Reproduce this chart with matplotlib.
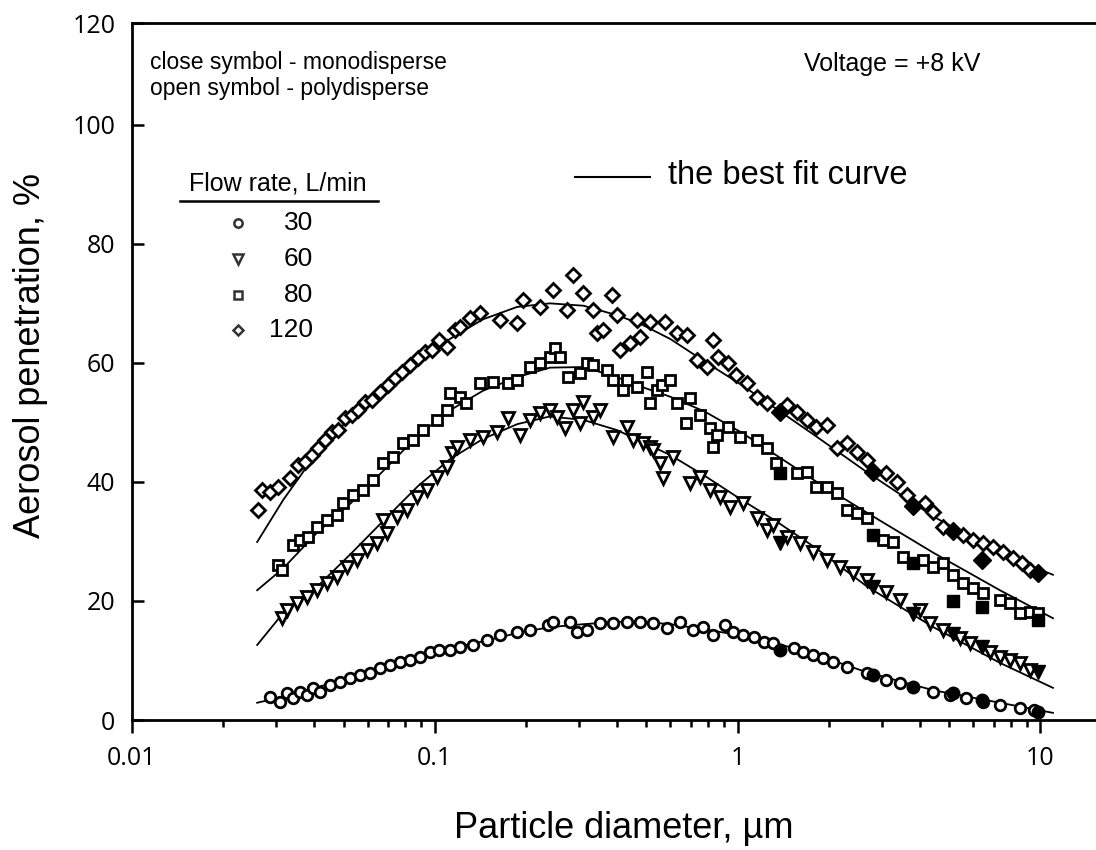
import numpy as np
import matplotlib
matplotlib.use("Agg")
import matplotlib.pyplot as plt
from matplotlib.ticker import LogLocator, NullFormatter, FixedLocator

plt.rcParams['font.family'] = ['Liberation Sans', 'DejaVu Sans']

# ---- data (x in um, y in %) ----
# 120 L/min, open diamonds (polydisperse)
x120 = [0.0261, 0.0269, 0.0286, 0.0303, 0.0333, 0.0354, 0.0373, 0.0393, 0.0412, 0.0434,
        0.0458, 0.0480, 0.0506, 0.0533, 0.0559, 0.0589, 0.0620, 0.0659, 0.0700, 0.0739,
        0.0779, 0.0828, 0.0880, 0.0928, 0.0979, 0.1034, 0.110, 0.1165, 0.121, 0.131,
        0.141, 0.164, 0.187, 0.195, 0.222, 0.245, 0.273, 0.285, 0.309, 0.333,
        0.343, 0.359, 0.385, 0.399, 0.409, 0.442, 0.465, 0.476, 0.514, 0.576,
        0.632, 0.681, 0.735, 0.793, 0.830, 0.862, 0.930, 0.99, 1.07, 1.16,
        1.25, 1.46, 1.57, 1.69, 1.82, 1.97, 2.13, 2.30, 2.48, 2.68,
        3.10, 3.35, 3.62, 4.16, 4.43, 4.77, 5.54, 5.98, 6.45, 6.97,
        7.52, 8.11, 8.69, 9.24]
y120 = [35.3, 38.7, 38.3, 39.2, 40.7, 42.9, 43.4, 44.5, 45.7, 47.1,
        48.4, 48.7, 50.8, 51.3, 52.1, 53.4, 53.8, 55.1, 56.3, 57.5,
        58.5, 59.7, 60.8, 61.8, 62.2, 63.9, 62.7, 65.5, 66.0, 67.6,
        68.4, 67.2, 66.7, 70.6, 69.4, 72.3, 68.9, 74.8, 71.8, 68.9,
        65.0, 65.5, 71.4, 68.0, 62.2, 63.4, 67.2, 64.4, 66.9, 66.9,
        65.0, 64.7, 60.5, 59.3, 63.9, 61.0, 60.0, 58.0, 56.6, 54.3,
        53.3, 52.9, 51.8, 50.4, 49.2, 49.6, 45.7, 46.6, 45.0, 43.7,
        41.5, 40.0, 37.8, 36.5, 35.0, 32.4, 31.1, 30.3, 29.7, 29.1,
        28.2, 27.2, 26.4, 25.2]

# 80 L/min, open squares
x80 = [0.0303, 0.0313, 0.0341, 0.0359, 0.0381, 0.0409, 0.0441, 0.0476, 0.0497, 0.0537,
       0.0580, 0.0625, 0.0674, 0.0727, 0.0785, 0.0847, 0.0914, 0.1017, 0.110, 0.112,
       0.121, 0.127, 0.141, 0.156, 0.174, 0.187, 0.206, 0.222, 0.240, 0.250,
       0.259, 0.275, 0.302, 0.318, 0.333, 0.370, 0.388, 0.418, 0.431, 0.465,
       0.501, 0.514, 0.541, 0.562, 0.598, 0.632, 0.673, 0.697, 0.752, 0.811,
       0.830, 0.855, 0.930, 1.02, 1.16, 1.25, 1.34, 1.57, 1.69, 1.82,
       1.97, 2.13, 2.30, 2.48, 2.68, 3.02, 3.26, 3.52, 4.10, 4.43,
       4.77, 5.16, 5.54, 5.98, 6.45, 7.35, 7.93, 8.56, 9.24, 9.8]
y80 = [26.0, 25.2, 29.4, 30.3, 30.8, 32.4, 33.6, 34.5, 36.5, 37.8,
       38.7, 40.3, 43.2, 44.2, 46.6, 47.1, 48.7, 50.4, 52.1, 55.0,
       54.3, 53.3, 56.6, 56.8, 56.6, 57.1, 59.3, 60.0, 61.0, 62.5,
       61.0, 57.6, 58.3, 60.0, 59.7, 58.8, 57.1, 55.5, 57.1, 56.0,
       58.5, 53.3, 55.5, 56.3, 57.1, 53.3, 49.9, 54.1, 51.3, 49.1,
       45.9, 47.9, 49.2, 47.6, 47.1, 45.7, 43.2, 41.5, 41.7, 39.2,
       39.2, 38.2, 35.3, 34.8, 33.9, 30.3, 29.9, 27.4, 26.9, 25.7,
       26.4, 24.4, 23.0, 22.2, 21.3, 20.2, 19.7, 18.0, 18.2, 18.0]

# 60 L/min, open down-triangles
x60 = [0.0313, 0.0325, 0.0351, 0.0378, 0.0409, 0.0441, 0.0476, 0.0513, 0.0554, 0.0597,
       0.0644, 0.0695, 0.0674, 0.0750, 0.0809, 0.0873, 0.0942, 0.1017, 0.110, 0.114,
       0.118, 0.131, 0.144, 0.161, 0.174, 0.191, 0.206, 0.222, 0.240, 0.253,
       0.270, 0.285, 0.302, 0.309, 0.333, 0.351, 0.388, 0.431, 0.452, 0.488,
       0.514, 0.527, 0.555, 0.567, 0.612, 0.697, 0.752, 0.811, 0.875, 0.944,
       1.04, 1.16, 1.25, 1.31, 1.46, 1.61, 1.78, 1.97, 2.18, 2.41,
       2.68, 3.10, 3.44, 4.00, 4.32, 4.77, 5.42, 5.85, 6.81, 7.35,
       7.93, 8.56, 9.24]
y60 = [17.1, 18.5, 19.7, 20.7, 21.8, 23.0, 24.0, 25.7, 26.9, 28.6,
       29.7, 31.4, 33.6, 34.1, 35.3, 37.5, 38.7, 40.8, 42.5, 44.9,
       45.9, 47.1, 47.6, 48.4, 50.8, 47.9, 50.4, 51.6, 52.1, 50.9,
       49.1, 52.1, 49.9, 53.4, 50.9, 52.1, 47.6, 49.2, 47.1, 46.6,
       45.9, 45.4, 43.2, 40.7, 44.2, 39.8, 40.8, 38.7, 37.5, 35.8,
       36.5, 33.9, 31.9, 32.8, 30.8, 29.7, 28.2, 26.9, 25.7, 24.7,
       23.5, 21.5, 20.2, 18.5, 16.3, 15.1, 13.8, 12.9, 11.4, 10.6,
       10.1, 9.6, 8.4]

# 30 L/min, open circles
x30 = [0.0286, 0.0308, 0.0325, 0.0341, 0.0359, 0.0378, 0.0396, 0.0418, 0.0451, 0.0487,
       0.0525, 0.0567, 0.0611, 0.0659, 0.0711, 0.0767, 0.0828, 0.0893, 0.0964, 0.1034,
       0.112, 0.121, 0.134, 0.149, 0.164, 0.187, 0.206, 0.236, 0.245, 0.279,
       0.295, 0.318, 0.351, 0.388, 0.431, 0.476, 0.527, 0.584, 0.646, 0.714,
       0.770, 0.830, 0.908, 0.967, 1.04, 1.13, 1.22, 1.31, 1.53, 1.65,
       1.78, 1.92, 2.07, 2.30, 2.68, 3.10, 3.44, 4.43, 5.02, 5.70,
       6.45, 7.35, 8.56, 9.5]
y30 = [3.9, 3.0, 4.5, 3.7, 4.7, 4.2, 5.4, 4.7, 5.9, 6.4,
       7.1, 7.6, 7.9, 8.7, 9.2, 9.7, 10.1, 10.6, 11.4, 11.8,
       11.8, 12.3, 12.6, 13.4, 14.3, 14.8, 15.1, 16.0, 16.5, 16.5,
       14.8, 15.1, 16.3, 16.3, 16.5, 16.5, 16.3, 15.5, 16.5, 15.1,
       15.6, 14.3, 16.0, 14.8, 14.3, 13.9, 13.1, 12.9, 12.1, 11.4,
       10.9, 10.4, 9.7, 8.9, 7.9, 6.7, 6.2, 4.7, 4.2, 3.7,
       3.0, 2.5, 2.0, 1.7]

# monodisperse (filled symbols)
x_mono = [1.38, 2.80, 3.79, 5.16, 6.40, 9.8]
y120_mono = [51.8, 41.7, 36.0, 31.7, 26.8, 24.7]
y80_mono = [41.5, 31.1, 26.4, 20.0, 19.0, 16.8]
y60_mono = [29.7, 22.4, 17.8, 14.4, 12.3, 8.1]
y30_mono = [11.8, 7.6, 5.5, 4.5, 3.4, 1.3]

# best fit curves
xfit = [0.0259, 0.0316, 0.0409, 0.053, 0.068, 0.088, 0.112, 0.144, 0.187, 0.24,
        0.31, 0.40, 0.48, 0.60, 0.78, 1.03, 1.34, 1.80, 2.68, 4.43, 7.35, 11.0]
fit120 = [29.9, 37.0, 45.0, 51.0, 55.5, 60.0, 64.0, 67.3, 69.4, 70.0,
          69.6, 68.0, 66.5, 64.0, 60.2, 56.3, 52.3, 47.8, 41.6, 34.2, 28.0, 24.4]
fit80 = [21.8, 25.5, 31.5, 36.5, 42.0, 47.8, 52.0, 55.3, 57.6, 59.2,
         59.3, 57.6, 56.0, 54.3, 51.8, 48.3, 44.5, 40.2, 34.8, 28.1, 21.8, 17.1]
fit60 = [12.6, 18.0, 22.4, 28.0, 33.6, 39.3, 43.8, 47.2, 49.7, 51.0,
         50.4, 48.7, 46.8, 44.5, 41.0, 37.0, 33.4, 29.0, 22.4, 15.6, 9.6, 5.4]
fit30 = [2.9, 3.9, 5.5, 7.2, 8.9, 10.6, 12.0, 13.2, 14.6, 15.6,
         16.1, 16.5, 16.5, 16.1, 15.2, 14.2, 12.9, 11.0, 8.0, 5.0, 2.9, 1.2]

flow_labels = ['30', '60', '80', '120']
yticks = [0, 20, 40, 60, 80, 100]

# ---- figure ----
fig = plt.figure(figsize=(10.96, 8.5), dpi=100)
ax = fig.add_axes([132 / 1096, 1 - 720 / 850, 1 - 132 / 1096, 697 / 850])

ax.set_xscale('log')
ax.set_xlim(0.01, 15.26)
ax.set_ylim(0, 117.1)

for yf in [fit120, fit80, fit60, fit30]:
    ax.plot(xfit, yf, color='black', lw=1.3, zorder=2)

open_kw = dict(ls='none', mfc='white', mec='black', mew=2.0, zorder=3)
ax.plot(x120, y120, marker='D', ms=6.8, **open_kw)
ax.plot(x80, y80, marker='s', ms=7.2, **open_kw)
ax.plot(x60, y60, marker='v', ms=8.3, **open_kw)
ax.plot(x30, y30, marker='o', ms=7.6, **open_kw)

fill_kw = dict(ls='none', mfc='black', mec='black', zorder=4)
ax.plot(x_mono, y120_mono, marker='D', ms=9, **fill_kw)
ax.plot(x_mono, y80_mono, marker='s', ms=9, **fill_kw)
ax.plot(x_mono, y60_mono, marker='v', ms=10, **fill_kw)
ax.plot(x_mono, y30_mono, marker='o', ms=9, **fill_kw)

# spines and ticks
ax.spines['right'].set_visible(False)
for s in ['left', 'bottom', 'top']:
    ax.spines[s].set_linewidth(2.0)

ax.yaxis.set_major_locator(FixedLocator(yticks + [117.1]))
ax.set_yticklabels([str(v) for v in yticks] + ['120'])
ax.tick_params(axis='y', which='major', direction='in', length=8.5, width=1.8,
               pad=12, labelsize=18, right=False)
ax.xaxis.set_minor_locator(LogLocator(base=10, subs=np.arange(2, 10), numticks=20))
ax.xaxis.set_minor_formatter(NullFormatter())
ax.set_xticks([0.01, 0.1, 1, 10])
ax.set_xticklabels(['0.01', '0.1', '1', '10'])
ax.tick_params(axis='x', which='major', direction='out', length=9.5, width=1.8,
               pad=9, labelsize=18, top=False)
ax.tick_params(axis='x', which='minor', direction='out', length=5, width=1.8, top=False)
for lab in ax.get_xticklabels() + ax.get_yticklabels():
    lab.set_fontfamily('Open Sans')

# axis titles
fig.text(624 / 1096, 1 - 838 / 850, 'Particle diameter, µm', fontsize=26,
         ha='center', va='baseline')
fig.text(31 / 1096, 1 - 355 / 850, 'Aerosol penetration, %', fontsize=26,
         rotation=90, ha='center', va='center')

# annotations
fig.text(150 / 1096, 1 - 63 / 850, 'close symbol - monodisperse', fontsize=16.5,
         ha='left', va='center')
fig.text(150 / 1096, 1 - 88 / 850, 'open symbol - polydisperse', fontsize=16.5,
         ha='left', va='center')
fig.text(892 / 1096, 1 - 64 / 850, 'Voltage = +8 kV', fontsize=18,
         ha='center', va='center')
fig.text(668 / 1096, 1 - 176 / 850, 'the best fit curve', fontsize=23.5,
         ha='left', va='center')
fig.add_artist(plt.Line2D([575 / 1096, 650 / 1096], [1 - 177 / 850, 1 - 177 / 850],
                          color='black', lw=1.5))

# flow-rate key
fig.text(278 / 1096, 1 - 184 / 850, 'Flow rate, L/min', fontsize=18,
         ha='center', va='center')
fig.add_artist(plt.Line2D([180 / 1096, 378 / 1096], [1 - 201 / 850, 1 - 201 / 850],
                          color='black', lw=1.8))
key_y = [223, 259, 295, 330]
key_m = ['o', 'v', 's', 'D']
key_ms = [6, 6.5, 5.5, 5]
for lab, yy, m, ms in zip(flow_labels, key_y, key_m, key_ms):
    fig.add_artist(plt.Line2D([238 / 1096], [1 - yy / 850], marker=m, ms=ms,
                              mfc='white', mec='#333333', mew=1.8, ls='none'))
    fig.text(313 / 1096, 1 - yy / 850, lab, fontsize=19, ha='right', va='center')

fig.savefig('out.png', dpi=100)
